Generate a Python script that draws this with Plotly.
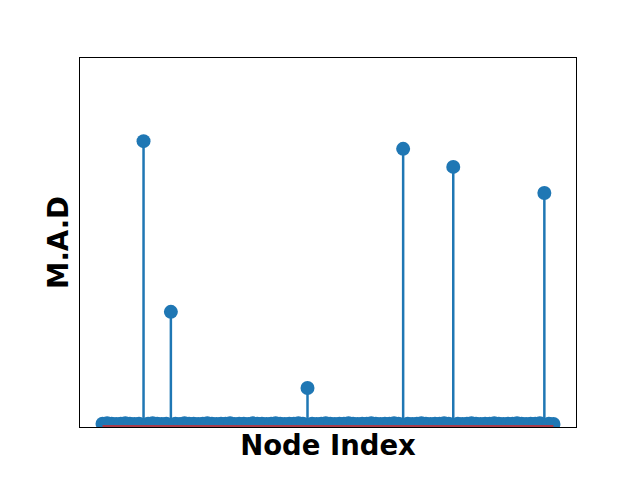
import plotly.graph_objects as go

# Node indices and M.A.D values (scale arbitrary, no ticks shown)
node_index = list(range(100))
mad_values = [
    0.006, 0.007, 0.006, 0.005, 0.006, 0.007, 0.006, 0.005, 0.006, 0.774,
    0.006, 0.007, 0.006, 0.005, 0.006, 0.310, 0.006, 0.005, 0.007, 0.006,
    0.006, 0.005, 0.006, 0.007, 0.006, 0.005, 0.006, 0.006, 0.007, 0.005,
    0.006, 0.006, 0.005, 0.007, 0.006, 0.006, 0.005, 0.006, 0.007, 0.006,
    0.005, 0.006, 0.006, 0.007, 0.006, 0.103, 0.006, 0.005, 0.006, 0.007,
    0.006, 0.005, 0.006, 0.006, 0.007, 0.006, 0.005, 0.006, 0.006, 0.007,
    0.006, 0.005, 0.006, 0.006, 0.007, 0.006, 0.753, 0.006, 0.005, 0.006,
    0.007, 0.006, 0.005, 0.006, 0.006, 0.007, 0.006, 0.704, 0.006, 0.005,
    0.006, 0.007, 0.006, 0.005, 0.006, 0.006, 0.007, 0.006, 0.005, 0.006,
    0.006, 0.007, 0.006, 0.005, 0.006, 0.006, 0.007, 0.633, 0.006, 0.005,
]
x_label = "Node Index"
y_label = "M.A.D"

blue = "#1f77b4"
red = "#d62728"

# stems built from the data
stem_x, stem_y = [], []
for xi, yi in zip(node_index, mad_values):
    stem_x += [xi, xi, None]
    stem_y += [0, yi, None]

fig = go.Figure()
fig.add_trace(go.Scatter(x=stem_x, y=stem_y, mode="lines",
                         line=dict(color=blue, width=2.5), hoverinfo="skip",
                         showlegend=False))
fig.add_trace(go.Scatter(x=node_index, y=mad_values, mode="markers",
                         marker=dict(color=blue, size=14, line=dict(width=0)),
                         showlegend=False))
fig.add_trace(go.Scatter(x=[node_index[0], node_index[-1]], y=[0, 0], mode="lines",
                         line=dict(color=red, width=1.5), showlegend=False))

span = node_index[-1] - node_index[0]
fig.update_layout(
    width=640, height=480,
    margin=dict(l=72, r=72, t=50, b=61),
    paper_bgcolor="white", plot_bgcolor="white",
    font=dict(family="DejaVu Sans", color="black"),
    xaxis=dict(range=[node_index[0] - 0.05 * span, node_index[-1] + 0.05 * span],
               showgrid=False, zeroline=False, showticklabels=False, ticks="",
               showline=True, linecolor="black", linewidth=1, mirror=True,
               automargin=False,
               title=dict(text="<b>" + x_label + "</b>", font=dict(size=27.5), standoff=8)),
    yaxis=dict(range=[-0.003, 1.0],
               showgrid=False, zeroline=False, showticklabels=False, ticks="",
               showline=True, linecolor="black", linewidth=1, mirror=True,
               automargin=False,
               title=dict(text="<b>" + y_label + "</b>", font=dict(size=27.5), standoff=2)),
)

fig.write_html("out.html")
